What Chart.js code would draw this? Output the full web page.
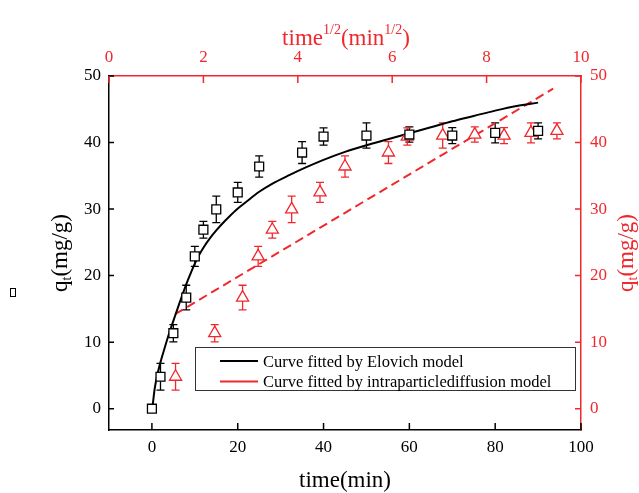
<!DOCTYPE html>
<html lang="en">
<head>
<meta charset="UTF-8">
<title>Elovich / intraparticle diffusion fit</title>
<script src="https://cdn.jsdelivr.net/npm/chart.js"></script>
<style>
  html, body { margin: 0; padding: 0; background: #fff; }
  .wrap { width: 639px; height: 493px; position: relative; }
</style>
</head>
<body>
<div class="wrap"><canvas id="kineticsChart"></canvas></div>
<script>
const RED = '#f0282d';
const FONT = '"Liberation Serif", "Times New Roman", serif';

// measured adsorption (time in min)
const timeMin = [0, 2, 5, 8, 10, 12, 15, 20, 25, 35, 40, 50, 60, 70, 80, 90];
const qtMeasured = [0, 4.8, 11.35, 16.7, 22.9, 26.9, 29.95, 32.5, 36.4, 38.5, 40.9, 41.05, 41.2, 41.05, 41.45, 41.75];
const qtError = [0, 2.0, 1.3, 1.85, 1.5, 1.25, 2.0, 1.5, 1.6, 1.65, 1.3, 1.9, 1.15, 1.2, 1.5, 1.2];

// same points against time^1/2 (top / right axes)
const sqrtTime = [1.41, 2.24, 2.83, 3.16, 3.46, 3.87, 4.47, 5.0, 5.92, 6.32, 7.07, 7.75, 8.37, 8.94, 9.49];
const qtSqrt = qtMeasured.slice(1);
const qtSqrtError = qtError.slice(1);

// fitted curves
const elovichT = [0.2, 0.6, 1.1, 2, 3, 4, 5, 6.6, 8, 9, 10, 11, 12, 13.5, 15, 17, 19.5, 22, 25, 28, 32, 36, 40, 45, 50, 55, 60, 65, 70, 75, 80, 85, 90];
const elovichQ = [0.6, 2.8, 4.6, 7.0, 9.2, 11.3, 13.2, 16.2, 18.7, 20.3, 21.8, 23.1, 24.2, 25.6, 26.8, 28.2, 29.8, 31.1, 32.6, 33.8, 35.1, 36.3, 37.4, 38.6, 39.6, 40.5, 41.4, 42.3, 43.2, 44.0, 44.8, 45.5, 46.0];
const diffusionX = [1.40, 9.41];
const diffusionQ = [14.2, 48.1];

// axis ticks
const xTicks = [0, 20, 40, 60, 80, 100];
const x2Ticks = [0, 2, 4, 6, 8, 10];
const yTicks = [0, 10, 20, 30, 40, 50];

const legendLabels = ['Curve fitted by Elovich model', 'Curve fitted by intraparticlediffusion model'];

const pts = (xs, ys) => xs.map((x, i) => ({ x: x, y: ys[i] }));

// error bars, drawn under the markers
const errorBars = {
  id: 'errorBars',
  beforeDatasetsDraw(chart) {
    const ctx = chart.ctx;
    const groups = [
      { xs: timeMin, ys: qtMeasured, es: qtError, sx: chart.scales.x, sy: chart.scales.y, color: '#000' },
      { xs: sqrtTime, ys: qtSqrt, es: qtSqrtError, sx: chart.scales.x2, sy: chart.scales.y2, color: RED }
    ];
    ctx.save();
    ctx.lineWidth = 1.3;
    groups.forEach(g => {
      ctx.strokeStyle = g.color;
      g.xs.forEach((xv, i) => {
        if (!g.es[i]) return;
        const px = g.sx.getPixelForValue(xv);
        const top = g.sy.getPixelForValue(g.ys[i] + g.es[i]);
        const bot = g.sy.getPixelForValue(g.ys[i] - g.es[i]);
        ctx.beginPath();
        ctx.moveTo(px, top); ctx.lineTo(px, bot);
        ctx.moveTo(px - 4, top); ctx.lineTo(px + 4, top);
        ctx.moveTo(px - 4, bot); ctx.lineTo(px + 4, bot);
        ctx.stroke();
      });
    });
    ctx.restore();
  }
};

function drawRich(ctx, parts, cx, cy, rot, color) {
  ctx.save();
  ctx.translate(cx, cy);
  ctx.rotate(rot);
  ctx.fillStyle = color;
  ctx.textBaseline = 'alphabetic';
  ctx.textAlign = 'left';
  let w = 0;
  parts.forEach(p => { ctx.font = p[1] + 'px ' + FONT; w += ctx.measureText(p[0]).width; });
  let x = -w / 2;
  parts.forEach(p => {
    ctx.font = p[1] + 'px ' + FONT;
    ctx.fillText(p[0], x, p[2]);
    x += ctx.measureText(p[0]).width;
  });
  ctx.restore();
}

// inward ticks, axis titles, legend
const decorations = {
  id: 'decorations',
  afterDraw(chart) {
    const ctx = chart.ctx;
    const a = chart.chartArea;
    const s = chart.scales;
    ctx.save();
    ctx.lineWidth = 1.5;
    ctx.strokeStyle = '#000';
    ctx.beginPath();
    xTicks.forEach(v => { const p = s.x.getPixelForValue(v); ctx.moveTo(p, a.bottom); ctx.lineTo(p, a.bottom - 7); });
    yTicks.forEach(v => { const p = s.y.getPixelForValue(v); ctx.moveTo(a.left, p); ctx.lineTo(a.left + 5, p); });
    ctx.stroke();
    ctx.strokeStyle = RED;
    ctx.beginPath();
    x2Ticks.forEach(v => { const p = s.x2.getPixelForValue(v); ctx.moveTo(p, a.top); ctx.lineTo(p, a.top + 7); });
    yTicks.forEach(v => { const p = s.y2.getPixelForValue(v); ctx.moveTo(a.right, p); ctx.lineTo(a.right - 6, p); });
    ctx.stroke();

    const midX = (a.left + a.right) / 2;
    const midY = (a.top + a.bottom) / 2;
    drawRich(ctx, [['time(min)', 23, 0]], midX, 487, 0, '#000');
    drawRich(ctx, [['time', 23, 0], ['1/2', 14, -11], ['(min', 23, 0], ['1/2', 14, -11], [')', 23, 0]], midX + 1, 45, 0, RED);
    drawRich(ctx, [['q', 23, 0], ['t', 14, 4], ['(mg/g)', 23, 0]], 67, midY, -Math.PI / 2, '#000');
    drawRich(ctx, [['q', 23, 0], ['t', 14, 4], ['(mg/g)', 23, 0]], 633, midY, -Math.PI / 2, RED);

    // stray glyph box at the left edge
    ctx.lineWidth = 1;
    ctx.strokeStyle = '#000';
    ctx.strokeRect(10.5, 288.5, 5, 8);

    // legend
    ctx.fillStyle = '#fff';
    ctx.fillRect(195.5, 347.5, 380, 43);
    ctx.strokeStyle = '#333';
    ctx.lineWidth = 1;
    ctx.strokeRect(195.5, 347.5, 380, 43);
    ctx.lineWidth = 2;
    ctx.strokeStyle = '#000';
    ctx.beginPath(); ctx.moveTo(220, 361); ctx.lineTo(258, 361); ctx.stroke();
    ctx.strokeStyle = RED;
    ctx.beginPath(); ctx.moveTo(220, 381.5); ctx.lineTo(258, 381.5); ctx.stroke();
    ctx.fillStyle = '#000';
    ctx.font = '16.5px ' + FONT;
    ctx.textBaseline = 'alphabetic';
    ctx.fillText(legendLabels[0], 263, 366.5);
    ctx.fillText(legendLabels[1], 263, 387);
    ctx.restore();
  }
};

function axis(position, min, max, tickValues, color, size, pad) {
  const horizontal = position === 'top' || position === 'bottom';
  return {
    type: 'linear',
    position: position,
    min: min,
    max: max,
    grid: { display: false, drawTicks: false },
    border: { display: true, color: color, width: 1.5 },
    ticks: { color: color, padding: pad, autoSkip: false, maxRotation: 0, font: { family: FONT, size: 17 } },
    afterBuildTicks: sc => { sc.ticks = tickValues.map(v => ({ value: v })); },
    afterFit: sc => { if (horizontal) sc.height = size; else sc.width = size; }
  };
}

new Chart(document.getElementById('kineticsChart'), {
  type: 'scatter',
  data: {
    datasets: [
      {
        label: 'qt',
        data: pts(timeMin, qtMeasured),
        xAxisID: 'x', yAxisID: 'y',
        pointStyle: 'rect', pointRadius: 6.3, borderWidth: 1.3,
        borderColor: '#000', backgroundColor: '#fff'
      },
      {
        label: 'qt vs t^1/2',
        data: pts(sqrtTime, qtSqrt),
        xAxisID: 'x2', yAxisID: 'y2',
        pointStyle: 'triangle', pointRadius: 7, borderWidth: 1.3,
        borderColor: RED, backgroundColor: '#fff'
      },
      {
        label: legendLabels[0],
        data: pts(elovichT, elovichQ),
        xAxisID: 'x', yAxisID: 'y',
        showLine: true, pointRadius: 0, borderWidth: 2, borderColor: '#000',
        cubicInterpolationMode: 'monotone'
      },
      {
        label: legendLabels[1],
        data: pts(diffusionX, diffusionQ),
        xAxisID: 'x2', yAxisID: 'y2',
        showLine: true, pointRadius: 0, borderWidth: 2, borderColor: RED,
        borderDash: [9, 5]
      }
    ]
  },
  options: {
    responsive: true,
    maintainAspectRatio: false,
    animation: false,
    layout: { padding: 0 },
    plugins: { legend: { display: false }, tooltip: { enabled: false } },
    scales: {
      x: axis('bottom', -10, 100, xTicks, '#000', 63, 7),
      x2: axis('top', 0, 10, x2Ticks, RED, 76, 8),
      y: axis('left', -3.2, 50, yTicks, '#000', 109, 8),
      y2: axis('right', -3.2, 50, yTicks, RED, 58, 9)
    }
  },
  plugins: [errorBars, decorations]
});
</script>
</body>
</html>
